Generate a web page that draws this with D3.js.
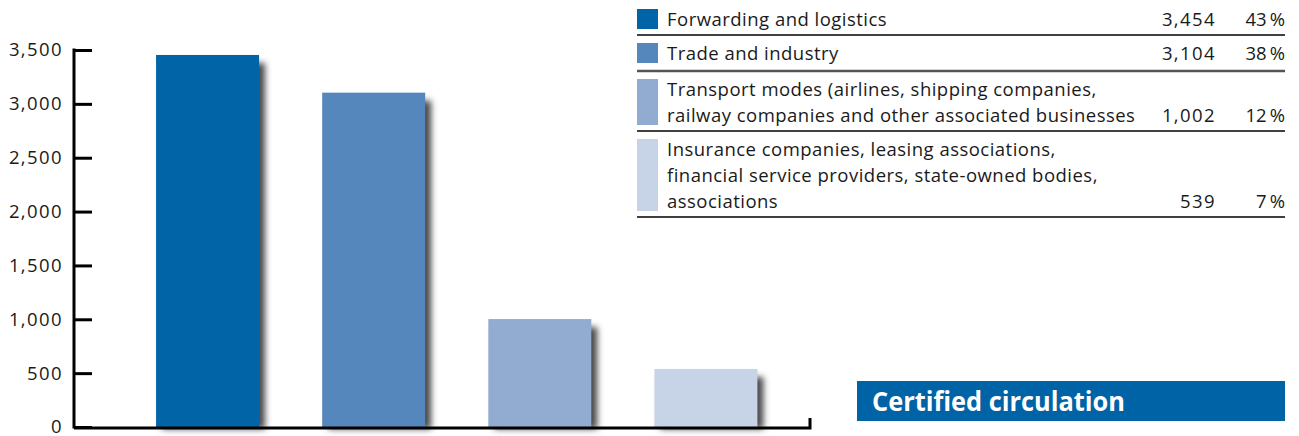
<!DOCTYPE html>
<html>
<head>
<meta charset="utf-8">
<script src="https://cdn.jsdelivr.net/npm/d3@7"></script>
<style>
  html, body { margin: 0; padding: 0; background: #fff; }
  svg { display: block; font-family: "Open Sans", "Noto Sans", sans-serif; }
</style>
</head>
<body>
<svg id="chart" width="1299" height="436"></svg>
<script>
  'use strict';

  // data
  const categories = [
    'Forwarding and logistics',
    'Trade and industry',
    'Transport modes (airlines, shipping companies, railway companies and other associated businesses',
    'Insurance companies, leasing associations, financial service providers, state-owned bodies, associations'
  ];
  const labelLines = [
    ['Forwarding and logistics'],
    ['Trade and industry'],
    ['Transport modes (airlines, shipping companies,', 'railway companies and other associated businesses'],
    ['Insurance companies, leasing associations,', 'financial service providers, state-owned bodies,', 'associations']
  ];
  const values = [3454, 3104, 1002, 539];
  const shares = [43, 38, 12, 7];
  const yTicks = [0, 500, 1000, 1500, 2000, 2500, 3000, 3500];
  const colors = ['#0064a6', '#5586bc', '#91abd1', '#c7d3e7'];
  const title = 'Certified circulation';

  const svg = d3.select('#chart');
  const fmt = d3.format(',');

  const plot = { left: 74, right: 810, top: 50, bottom: 427 };

  const y = d3.scaleLinear().domain([0, 3500]).range([plot.bottom, plot.top]);
  const x = d3.scaleBand()
    .domain(categories)
    .range([124.5, 789])
    .paddingInner(0.38)
    .paddingOuter(0.19);

  const defs = svg.append('defs');
  defs.append('filter')
    .attr('id', 'soft')
    .attr('x', '-20%').attr('y', '-20%')
    .attr('width', '140%').attr('height', '140%')
    .append('feGaussianBlur')
    .attr('stdDeviation', 3);

  // shadows then bars
  svg.append('g')
    .selectAll('rect')
    .data(values)
    .join('rect')
    .attr('x', function (d, i) { return x(categories[i]) + 6; })
    .attr('y', function (d) { return y(d) + 8; })
    .attr('width', x.bandwidth())
    .attr('height', function (d) { return plot.bottom - y(d) - 6; })
    .attr('fill', '#4a4a4a')
    .attr('filter', 'url(#soft)');

  svg.append('g')
    .selectAll('rect')
    .data(values)
    .join('rect')
    .attr('x', function (d, i) { return x(categories[i]); })
    .attr('y', function (d) { return y(d); })
    .attr('width', x.bandwidth())
    .attr('height', function (d) { return plot.bottom - y(d); })
    .attr('fill', function (d, i) { return colors[i]; });

  // y axis, ticks pointing into the plot
  const yAxis = svg.append('g')
    .attr('transform', 'translate(' + plot.left + ',0)')
    .call(d3.axisLeft(y).tickValues(yTicks).tickFormat(fmt).tickSizeInner(-18).tickSizeOuter(0).tickPadding(11));
  yAxis.select('.domain').attr('stroke', '#000').attr('stroke-width', 3).attr('d', 'M0,' + (plot.top - 1.5) + 'V' + (plot.bottom + 1.5));
  yAxis.selectAll('.tick line').attr('stroke', '#000').attr('stroke-width', 3);
  yAxis.selectAll('.tick text')
    .attr('fill', '#1a1a1a')
    .attr('font-size', 18.5)
    .attr('font-family', '"Open Sans", sans-serif')
    .attr('letter-spacing', 1.4)
    .attr('dy', '0.32em');

  // x axis base line with the small end tick
  svg.append('path')
    .attr('d', 'M' + plot.left + ',' + (plot.bottom + 1) + 'H' + plot.right + 'V' + (plot.bottom - 9))
    .attr('fill', 'none')
    .attr('stroke', '#000')
    .attr('stroke-width', 3);

  // legend table
  const lg = { sq: 637, text: 667, num: 1215, pct: 1285, top: 9, line: 26 };
  const legend = svg.append('g').attr('font-size', 18.5).attr('fill', '#1a1a1a');
  let rowTop = lg.top;
  labelLines.forEach(function (lines, i) {
    const n = lines.length;
    const row = legend.append('g');
    row.append('rect')
      .attr('x', lg.sq).attr('y', rowTop)
      .attr('width', 21).attr('height', lg.line * n - 6)
      .attr('fill', colors[i]);
    lines.forEach(function (t, k) {
      row.append('text')
        .attr('x', lg.text)
        .attr('y', rowTop + 17 + lg.line * k)
        .attr('letter-spacing', 0.48)
        .text(t);
    });
    const lastY = rowTop + 17 + lg.line * (n - 1);
    row.append('text')
      .attr('x', lg.num + 1).attr('y', lastY)
      .attr('text-anchor', 'end')
      .attr('letter-spacing', 1.4)
      .text(fmt(values[i]));
    row.append('text')
      .attr('x', lg.pct).attr('y', lastY)
      .attr('text-anchor', 'end')
      .text(shares[i] + '\u2009%');
    const sep = rowTop + lg.line * n + (i === 1 ? 2 : 0);
    row.append('line')
      .attr('x1', lg.sq).attr('x2', lg.pct)
      .attr('y1', sep).attr('y2', sep)
      .attr('stroke', i === 1 ? '#555' : '#000')
      .attr('stroke-width', i === 1 ? 2.5 : 1.6);
    rowTop = sep + 8;
  });

  // title box
  svg.append('rect')
    .attr('x', 857).attr('y', 381)
    .attr('width', 428).attr('height', 40)
    .attr('fill', '#0063a6');
  svg.append('text')
    .attr('x', 872).attr('y', 411)
    .attr('fill', '#fff')
    .attr('font-weight', 'bold')
    .attr('font-size', 26)
    .attr('textLength', 253)
    .attr('lengthAdjust', 'spacingAndGlyphs')
    .text(title);
</script>
</body>
</html>
